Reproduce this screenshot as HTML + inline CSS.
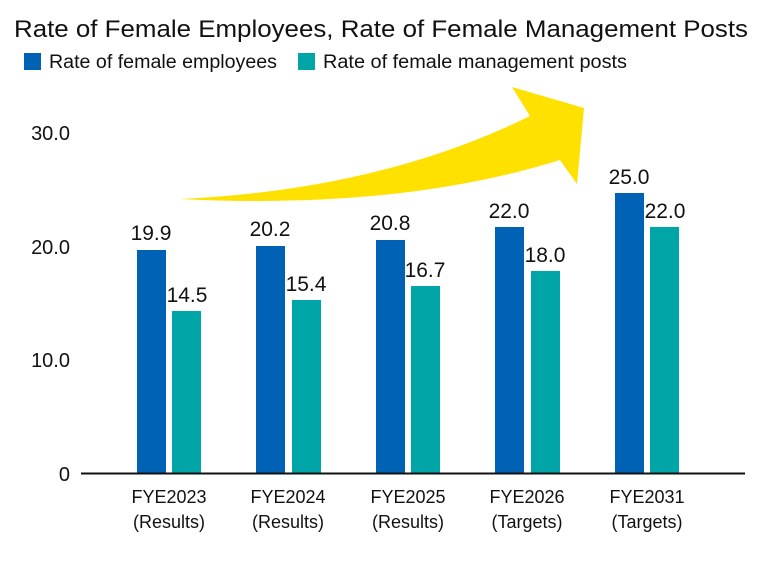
<!DOCTYPE html>
<html><head><style>
body{margin:0;background:#fff;}
svg text{font-family:"Liberation Sans",sans-serif;}
</style></head><body>
<svg width="768" height="557" viewBox="0 0 768 557" xmlns="http://www.w3.org/2000/svg">
<text x="14" y="37" font-size="24" fill="#111" textLength="734" lengthAdjust="spacingAndGlyphs">Rate of Female Employees, Rate of Female Management Posts</text>
<rect x="24" y="53" width="17" height="17" fill="#0062b4"/>
<text x="49" y="68" font-size="19" fill="#111" textLength="228" lengthAdjust="spacingAndGlyphs">Rate of female employees</text>
<rect x="298" y="53" width="17" height="17" fill="#00a5a8"/>
<text x="323" y="68" font-size="19" fill="#111" textLength="304" lengthAdjust="spacingAndGlyphs">Rate of female management posts</text>
<path d="M180,199 Q380,190 530,116 L512,87 L584,108 L577,184 L560,160 Q400,210 180,199 Z" fill="#ffe100"/>
<g font-size="20" fill="#111" text-anchor="end">
<text x="70" y="140">30.0</text>
<text x="70" y="254">20.0</text>
<text x="70" y="367">10.0</text>
<text x="70" y="481">0</text>
</g>
<g fill="#0062b4">
<rect x="137" y="250" width="29" height="223"/>
<rect x="256" y="246" width="29" height="227"/>
<rect x="376" y="240" width="29" height="233"/>
<rect x="495" y="227" width="29" height="246"/>
<rect x="615" y="193" width="29" height="280"/>
</g>
<g fill="#00a5a8">
<rect x="172" y="311" width="29" height="162"/>
<rect x="292" y="300" width="29" height="173"/>
<rect x="411" y="286" width="29" height="187"/>
<rect x="531" y="271" width="29" height="202"/>
<rect x="650" y="227" width="29" height="246"/>
</g>
<g font-size="21" fill="#111" text-anchor="middle">
<text x="151" y="240">19.9</text><text x="187" y="302">14.5</text>
<text x="270" y="236">20.2</text><text x="306" y="291">15.4</text>
<text x="390" y="230">20.8</text><text x="425" y="277">16.7</text>
<text x="509" y="218">22.0</text><text x="545" y="262">18.0</text>
<text x="629" y="184">25.0</text><text x="665" y="218">22.0</text>
</g>
<line x1="81" y1="473.5" x2="745" y2="473.5" stroke="#111" stroke-width="2"/>
<g font-size="18" fill="#111" text-anchor="middle">
<text x="169" y="503">FYE2023</text><text x="169" y="528">(Results)</text>
<text x="288" y="503">FYE2024</text><text x="288" y="528">(Results)</text>
<text x="408" y="503">FYE2025</text><text x="408" y="528">(Results)</text>
<text x="527" y="503">FYE2026</text><text x="527" y="528">(Targets)</text>
<text x="647" y="503">FYE2031</text><text x="647" y="528">(Targets)</text>
</g>
</svg>
</body></html>
